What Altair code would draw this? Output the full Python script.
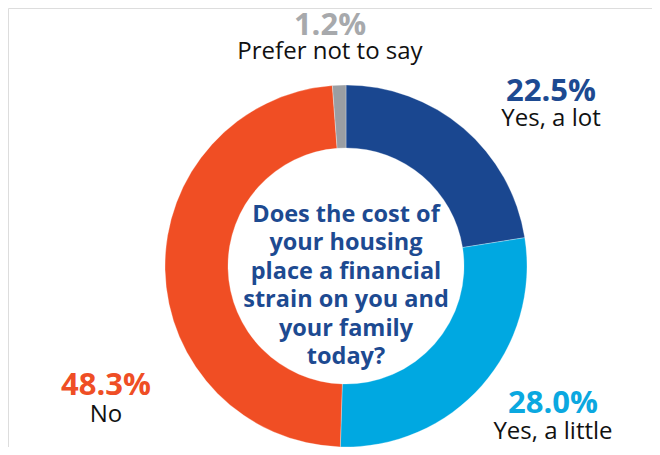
import altair as alt
import pandas as pd

categories = ["Yes, a lot", "Yes, a little", "No", "Prefer not to say"]
values = [22.5, 28.0, 48.3, 1.2]
pct_labels = ["22.5%", "28.0%", "48.3%", "1.2%"]
order = [0, 1, 2, 3]
slice_colors = ["#1A4790", "#00A8E1", "#F04E24", "#9A9EA3"]
pct_colors = ["#1D4A91", "#0BA8E0", "#EF4E25", "#A7A9AC"]
question = ["Does the cost of", "your housing", "place a financial",
            "strain on you and", "your family", "today?"]

df = pd.DataFrame({"category": categories, "value": values,
                   "pct": pct_labels, "order": order})

CX, CY = 338, 258
FONT = "Open Sans"

ring = alt.Chart(df).mark_arc(radius=181, innerRadius=118, stroke="white", strokeWidth=0.3).encode(
    theta=alt.Theta("value:Q", stack=True),
    order=alt.Order("order:Q"),
    color=alt.Color("category:N", scale=alt.Scale(domain=categories, range=slice_colors), legend=None),
    x=alt.value(CX), y=alt.value(CY),
)

# label anchor positions (x centre, pct baseline, name baseline)
label_pos = {
    "Yes, a lot": (543, 93, 118),
    "Yes, a little": (545, 405, 431),
    "No": (98, 387, 414),
    "Prefer not to say": (322, 27, 51),
}

layers = [ring]
for cat, col in zip(categories, pct_colors):
    x, y1, y2 = label_pos[cat]
    base = alt.Chart(df).transform_filter(alt.datum.category == cat)
    layers.append(base.mark_text(font=FONT, fontSize=31, fontWeight="bold", color=col,
                                 align="center", baseline="alphabetic").encode(
        text="pct:N", x=alt.value(x), y=alt.value(y1)))
    layers.append(base.mark_text(font=FONT, fontSize=24, color="#111111",
                                 align="center", baseline="alphabetic").encode(
        text="category:N", x=alt.value(x), y=alt.value(y2)))

qdf = pd.DataFrame({"q": [question]})
center = alt.Chart(qdf).mark_text(font=FONT, fontSize=23.5, fontWeight="bold", color="#1D4A91",
                                  align="center", baseline="alphabetic", lineHeight=28.4).encode(
    text="q", x=alt.value(CX), y=alt.value(214))
layers.append(center)

chart = alt.layer(*layers).properties(
    width=644, height=439, padding=0, autosize=alt.AutoSizeParams(type="none")
).configure_view(stroke=None).configure(background="white")

chart.save("out.html", embed_options={"renderer": "svg", "actions": False})
